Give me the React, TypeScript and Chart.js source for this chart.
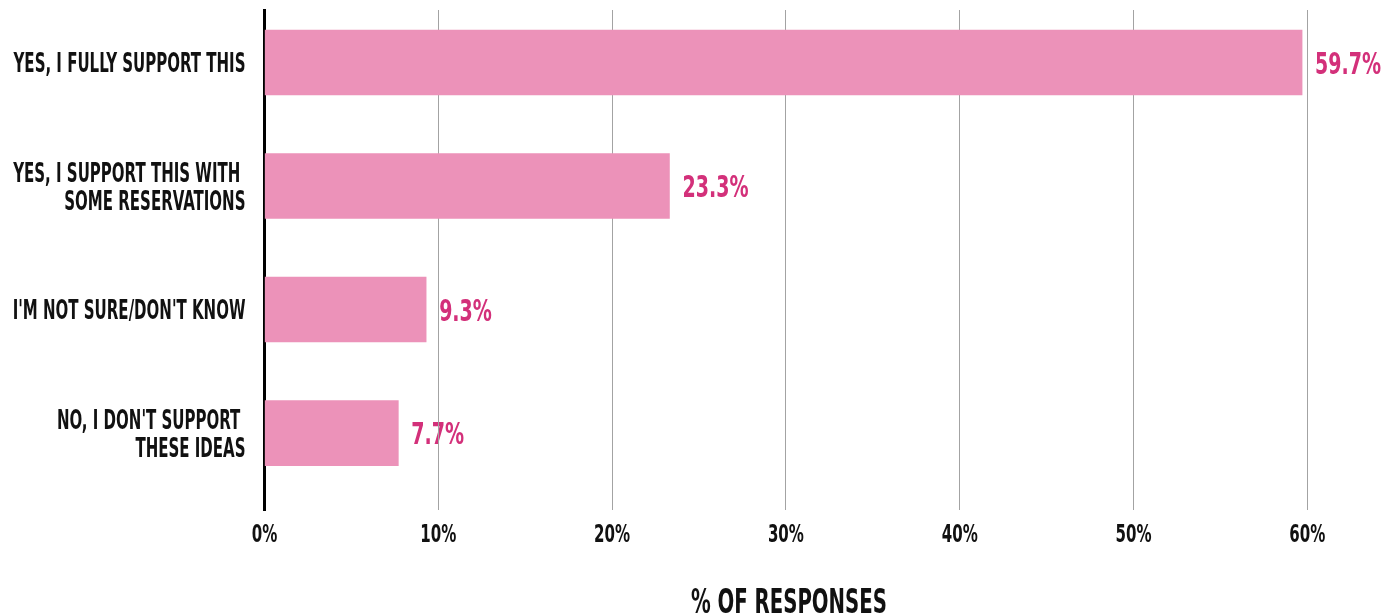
import React, { useEffect, useRef } from "react";
import { Chart, registerables } from "chart.js";

Chart.register(...registerables);

// ---- data ----
const categories: string[][] = [
  ["YES, I FULLY SUPPORT THIS"],
  ["YES, I SUPPORT THIS WITH ", "SOME RESERVATIONS"],
  ["I'M NOT SURE/DON'T KNOW"],
  ["NO, I DON'T SUPPORT ", "THESE IDEAS"],
];
const responses: number[] = [59.7, 23.3, 9.3, 7.7];
const valueLabels: string[] = ["59.7%", "23.3%", "9.3%", "7.7%"];
const xTickValues: number[] = [0, 10, 20, 30, 40, 50, 60];
const xTickLabels: string[] = ["0%", "10%", "20%", "30%", "40%", "50%", "60%"];
const xAxisTitle = "% OF RESPONSES";

const FONT = "'DejaVu Sans Condensed', 'DejaVu Sans', sans-serif";
const BAR_COLOR = "#EC92B9";
const VALUE_COLOR = "#D3307A";
const TEXT_COLOR = "#111111";

const W = 1388;
const H = 615;

// draw horizontally condensed text (reference uses a very condensed typeface)
function drawCondensed(
  ctx: CanvasRenderingContext2D,
  text: string,
  x: number,
  centerY: number,
  size: number,
  sx: number,
  align: CanvasTextAlign
) {
  ctx.save();
  ctx.textAlign = align;
  ctx.textBaseline = "alphabetic";
  ctx.translate(x, centerY + size * 0.365);
  ctx.scale(sx, 1);
  ctx.fillText(text, 0, 0);
  ctx.restore();
}

function fitScale(ctx: CanvasRenderingContext2D, sample: string, target: number) {
  const w = ctx.measureText(sample).width;
  return w > 0 ? target / w : 1;
}

export default function App() {
  const ref = useRef<HTMLCanvasElement | null>(null);

  useEffect(() => {
    document.body.style.margin = "0";
    const canvas = ref.current;
    if (!canvas) return;

    const labelPlugin = {
      id: "customLabels",
      beforeDraw(chart: any) {
        const ctx = chart.ctx as CanvasRenderingContext2D;
        const meta = chart.getDatasetMeta(0);

        // value labels (drawn before the grid so gridlines pass over them, as in the reference)
        ctx.save();
        ctx.fillStyle = VALUE_COLOR;
        const vSize = 31;
        ctx.font = `bold ${vSize}px ${FONT}`;
        const vsx = fitScale(ctx, "23.3%", 66);
        meta.data.forEach((bar: any, i: number) => {
          drawCondensed(ctx, valueLabels[i], bar.x + 13, bar.y, vSize, vsx, "left");
        });
        ctx.restore();
      },
      afterDraw(chart: any) {
        const ctx = chart.ctx as CanvasRenderingContext2D;
        const yScale = chart.scales.y;
        const xScale = chart.scales.x;

        // category labels
        ctx.save();
        ctx.fillStyle = TEXT_COLOR;
        const size = 27;
        const lineH = 28;
        ctx.font = `bold ${size}px ${FONT}`;
        const sx = fitScale(ctx, categories[0][0], 232);
        const rightX = yScale.right - 19;
        categories.forEach((lines, i) => {
          const cy = yScale.getPixelForValue(i);
          const startY = cy - ((lines.length - 1) * lineH) / 2;
          lines.forEach((line, j) => {
            drawCondensed(ctx, line, rightX, startY + j * lineH, size, sx, "right");
          });
        });

        // x tick labels
        const tSize = 25;
        ctx.font = `bold ${tSize}px ${FONT}`;
        const tsx = fitScale(ctx, "10%", 36);
        xTickValues.forEach((v, i) => {
          drawCondensed(ctx, xTickLabels[i], xScale.getPixelForValue(v), 533, tSize, tsx, "center");
        });

        // axis title
        const hSize = 33;
        ctx.font = `bold ${hSize}px ${FONT}`;
        const hsx = fitScale(ctx, xAxisTitle, 196);
        drawCondensed(ctx, xAxisTitle, (xScale.left + xScale.right) / 2 + 3, 601, hSize, hsx, "center");
        ctx.restore();
      },
    };

    const chart = new Chart(canvas, {
      type: "bar",
      data: {
        datasets: [
          {
            data: responses.map((v, i) => ({ x: v, y: i })),
            backgroundColor: BAR_COLOR,
            borderWidth: 0,
            barThickness: 65,
          },
        ],
      },
      options: {
        indexAxis: "y",
        animation: false,
        responsive: false,
        devicePixelRatio: 1,
        layout: { padding: { top: 10, right: 80.7, bottom: 0, left: 0 } },
        plugins: {
          legend: { display: false },
          tooltip: { enabled: false },
        },
        scales: {
          x: {
            type: "linear",
            min: 0,
            max: 60,
            afterFit: (axis: any) => {
              axis.height = 105;
            },
            afterBuildTicks: (axis: any) => {
              axis.ticks = xTickValues.map((v) => ({ value: v }));
            },
            ticks: { display: false },
            grid: {
              color: "#A3A3A3",
              lineWidth: 1,
              drawTicks: false,
            },
            border: { display: false },
          },
          y: {
            type: "linear",
            reverse: true,
            offset: false,
            min: -0.425,
            max: 3.623,
            afterFit: (axis: any) => {
              axis.width = 264.5;
            },
            afterBuildTicks: (axis: any) => {
              axis.ticks = categories.map((_, i) => ({ value: i }));
            },
            ticks: { display: false },
            grid: { display: false, offset: false },
            border: { display: true, color: "#000000", width: 3 },
          },
        },
      },
      plugins: [labelPlugin],
    } as any);

    return () => chart.destroy();
  }, []);

  return (
    <div style={{ width: W, height: H, background: "#ffffff" }}>
      <canvas ref={ref} width={W} height={H} style={{ display: "block", width: W, height: H }} />
    </div>
  );
}
